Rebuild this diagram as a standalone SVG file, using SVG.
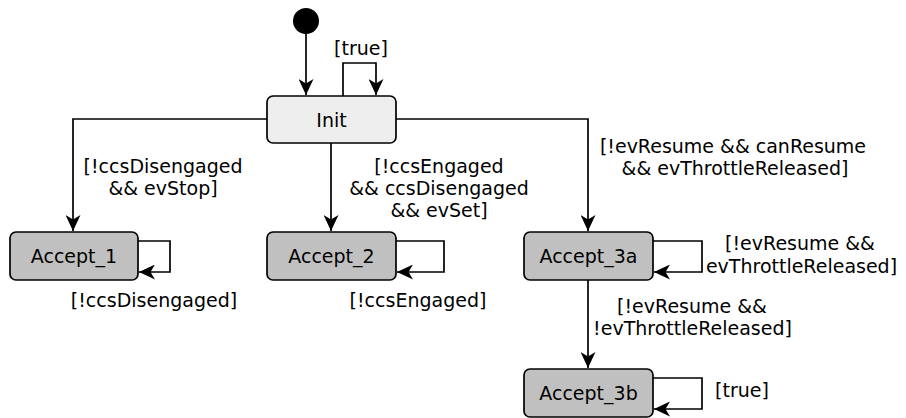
<svg xmlns="http://www.w3.org/2000/svg" width="906" height="418" viewBox="0 0 906 418">
<defs>
<marker id="arr" markerUnits="userSpaceOnUse" markerWidth="17" markerHeight="15" refX="16" refY="7.5" orient="auto">
<path d="M0,0 L16,7.5 L0,15 L4.5,7.5 Z" fill="#000"/>
</marker>
</defs>
<style>
.st{stroke:#000;stroke-width:1.7}
.init{fill:#eeeeee}
.acc{fill:#c0c0c0}
text{font-family:"DejaVu Sans",sans-serif;font-size:19px;fill:#000;text-anchor:middle}
.e{fill:none;stroke:#000;stroke-width:1.7;marker-end:url(#arr)}
</style>
<rect width="906" height="418" fill="#fff"/>
<g id="start"><circle cx="306" cy="21" r="13" fill="#000"/></g>
<g id="Init"><rect class="st init" x="267" y="96" width="129" height="47" rx="6"/><text x="331.5" y="126.5">Init</text></g>
<g id="Accept_1"><rect class="st acc" x="10" y="232" width="128" height="48" rx="6"/><text x="74" y="263">Accept_1</text></g>
<g id="Accept_2"><rect class="st acc" x="267" y="232" width="129" height="48" rx="6"/><text x="331.5" y="263">Accept_2</text></g>
<g id="Accept_3a"><rect class="st acc" x="524" y="232" width="129" height="48" rx="6"/><text x="588.5" y="263">Accept_3a</text></g>
<g id="Accept_3b"><rect class="st acc" x="524" y="369" width="129" height="48" rx="6"/><text x="588.5" y="400">Accept_3b</text></g>
<g id="connectors">
<path class="e" d="M306,34 V95"/>
<path class="e" d="M343,96 V63 H376 V95"/>
<text x="361" y="55">[true]</text>
<path class="e" d="M267,119 H73 V231"/>
<text x="163" y="173">[!ccsDisengaged</text>
<text x="163" y="195">&amp;&amp; evStop]</text>
<path class="e" d="M138,241 H170 V272 H139"/>
<text x="154" y="307">[!ccsDisengaged]</text>
<path class="e" d="M331,143 V231"/>
<text x="439" y="173">[!ccsEngaged</text>
<text x="439" y="195">&amp;&amp; ccsDisengaged</text>
<text x="439" y="217">&amp;&amp; evSet]</text>
<path class="e" d="M396,241 H444 V272 H397"/>
<text x="418" y="307">[!ccsEngaged]</text>
<path class="e" d="M396,119 H588 V231"/>
<text x="733" y="153">[!evResume &amp;&amp; canResume</text>
<text x="735" y="175">&amp;&amp; evThrottleReleased]</text>
<path class="e" d="M653,241 H702 V272 H654"/>
<text x="800" y="250">[!evResume &amp;&amp;</text>
<text x="801.5" y="273">evThrottleReleased]</text>
<path class="e" d="M588,280 V368"/>
<text x="692" y="313">[!evResume &amp;&amp;</text>
<text x="692.5" y="335">!evThrottleReleased]</text>
<path class="e" d="M653,378 H702 V409 H654"/>
<text x="742" y="397">[true]</text>
</g>
</svg>
